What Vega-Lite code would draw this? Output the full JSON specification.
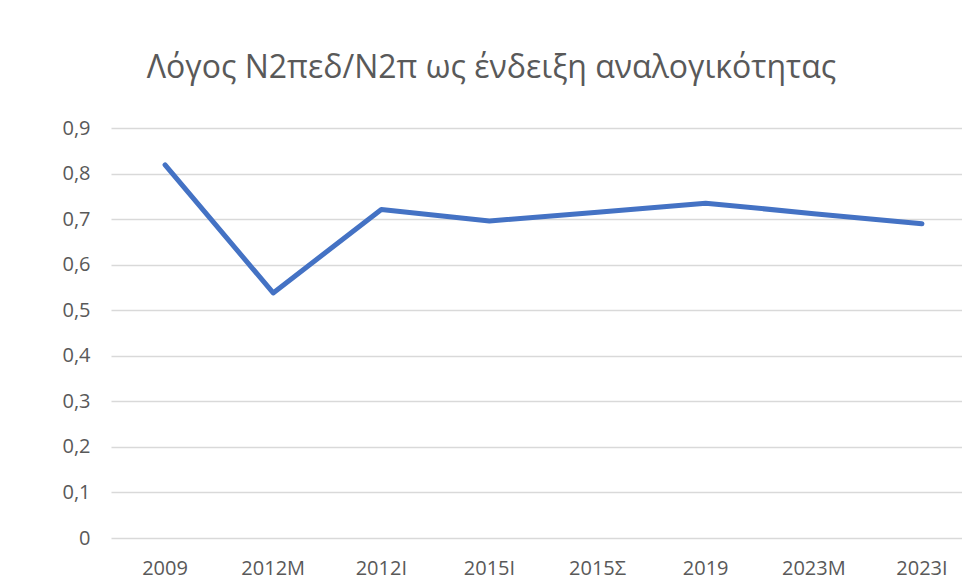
{
  "$schema": "https://vega.github.io/schema/vega-lite/v6.json",
  "autosize": {"type": "none"},
  "width": 851,
  "height": 410,
  "padding": {"left": 111, "top": 128, "right": 0, "bottom": 41},
  "background": "white",
  "title": {
    "text": "Λόγος Ν2πεδ/Ν2π ως ένδειξη αναλογικότητας",
    "font": "Open Sans",
    "fontSize": 32,
    "fontWeight": "normal",
    "color": "#595959",
    "anchor": "middle",
    "dx": -45,
    "offset": 33
  },
  "config": {
    "view": {"stroke": null},
    "font": "Open Sans"
  },
  "data": {
    "values": [
      {"year": "2009", "ratio": 0.819},
      {"year": "2012M", "ratio": 0.538},
      {"year": "2012I", "ratio": 0.721},
      {"year": "2015I", "ratio": 0.696},
      {"year": "2015Σ", "ratio": 0.715},
      {"year": "2019", "ratio": 0.735},
      {"year": "2023M", "ratio": 0.712},
      {"year": "2023I", "ratio": 0.69}
    ]
  },
  "mark": {"type": "line", "color": "#4472C4", "strokeWidth": 5, "strokeCap": "round", "strokeJoin": "round"},
  "encoding": {
    "x": {
      "field": "year",
      "type": "ordinal",
      "sort": null,
      "scale": {"type": "band", "paddingInner": 0, "paddingOuter": 0, "range": [0, 865]},
      "axis": {
        "title": null,
        "labelAngle": 0,
        "labelFont": "Open Sans",
        "labelFontSize": 20,
        "labelColor": "#595959",
        "labelPadding": 20,
        "ticks": false,
        "domain": false,
        "grid": false
      }
    },
    "y": {
      "field": "ratio",
      "type": "quantitative",
      "scale": {"domain": [0, 0.9]},
      "axis": {
        "title": null,
        "values": [0, 0.1, 0.2, 0.3, 0.4, 0.5, 0.6, 0.7, 0.8, 0.9],
        "labelExpr": "datum.value == 0 ? '0' : replace(format(datum.value, '.1f'), '.', ',')",
        "labelFont": "Open Sans",
        "labelFontSize": 20,
        "labelColor": "#595959",
        "labelPadding": 21,
        "ticks": false,
        "domain": false,
        "grid": true,
        "gridColor": "#d9d9d9",
        "gridWidth": 1.3
      }
    }
  }
}
